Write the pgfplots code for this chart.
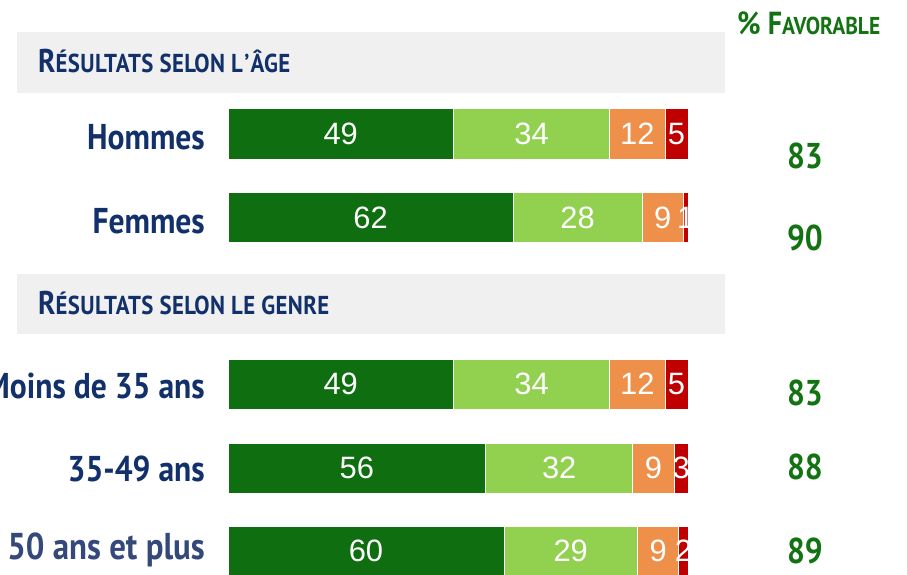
\documentclass[border=0pt]{standalone}
\usepackage{pgfplots}
\pgfplotsset{compat=1.18}
\usepackage{pgfplotstable}
\usepackage{fontspec}
\setmainfont{Liberation Sans}
\newfontfamily\cf[FakeStretch=0.88]{PT Sans}
\newfontfamily\cfs[FakeStretch=0.88, LetterSpace=1.5]{PT Sans}
\definecolor{dg}{HTML}{0F6E0F}
\definecolor{lg}{HTML}{92D050}
\definecolor{org}{HTML}{EE8F4A}
\definecolor{rd}{HTML}{C00000}
\definecolor{fav}{HTML}{137313}
\definecolor{lab}{HTML}{12306A}
\definecolor{lab2}{HTML}{34497A}
\definecolor{band}{HTML}{F0F0F0}
\pgfplotstableread{
y a b c d
134 49 34 12 5
217.5 62 28 9 1
384 49 34 12 5
468 56 32 9 3
551 60 29 9 2
}\data
\tikzset{
  rowlab/.style={anchor=base east, inner sep=0pt, text=lab, font=\cf\bfseries\fontsize{36}{38}\selectfont},
  favlab/.style={anchor=base, inner sep=0pt, text=fav, font=\cf\bfseries\fontsize{36}{38}\selectfont},
}
\begin{document}
\begin{tikzpicture}
\begin{axis}[
  width=907bp, height=575bp, scale only axis,
  xmin=-49.565, xmax=147.609, ymin=0, ymax=575, y dir=reverse,
  hide axis, clip=false,
  xbar stacked, bar width=50,
  /pgf/number format/assume math mode=true,
  nodes near coords,
  every node near coord/.append style={font=\fontsize{31}{32}\selectfont, text=white},
]
\addplot[fill=dg, draw=white, line width=1bp] table[x=a, y=y] {\data};
\addplot[fill=lg, draw=white, line width=1bp] table[x=b, y=y] {\data};
\addplot[fill=org, draw=white, line width=1bp] table[x=c, y=y] {\data};
\addplot[fill=rd, draw=white, line width=1bp] table[x=d, y=y] {\data};
\fill[band] (axis cs:-45.87,32) rectangle (axis cs:108.04,93);
\fill[band] (axis cs:-45.87,274) rectangle (axis cs:108.04,334);
\coordinate (h1) at (axis cs:-41.3,73);
\coordinate (h2) at (axis cs:-41.3,315);
\coordinate (hf) at (axis cs:110.65,35);
\node[rowlab] at (axis cs:-5,149) {Hommes};
\node[rowlab] at (axis cs:-5,233) {Femmes};
\node[rowlab] at (axis cs:-5,398) {Moins de 35 ans};
\node[rowlab] at (axis cs:-5,481) {35-49 ans};
\node[rowlab, text=lab2, font=\cf\bfseries\fontsize{37.5}{39}\selectfont] at (axis cs:-5,559) {50 ans et plus};
\node[favlab] at (axis cs:125.43,168) {83};
\node[favlab] at (axis cs:125.43,250) {90};
\node[favlab] at (axis cs:125.43,405) {83};
\node[favlab] at (axis cs:125.43,479) {88};
\node[favlab] at (axis cs:125.43,563) {89};
\end{axis}
\node[anchor=base west, text=lab, inner sep=0pt] at (h1) {\cfs\bfseries\fontsize{33}{34}\selectfont R\fontsize{26}{27}\selectfont ÉSULTATS SELON L\kern1.5pt’\kern1pt ÂGE};
\node[anchor=base west, text=lab, inner sep=0pt] at (h2) {\cfs\bfseries\fontsize{33}{34}\selectfont R\fontsize{26}{27}\selectfont ÉSULTATS SELON LE GENRE};
\node[anchor=base west, text=fav, inner sep=0pt] at (hf) {\cf\bfseries\fontsize{32}{34}\selectfont \% F\fontsize{24.5}{26}\selectfont AVORABLE};
\pgfresetboundingbox
\useasboundingbox (current axis.south west) rectangle (current axis.north east);
\end{tikzpicture}
\end{document}
